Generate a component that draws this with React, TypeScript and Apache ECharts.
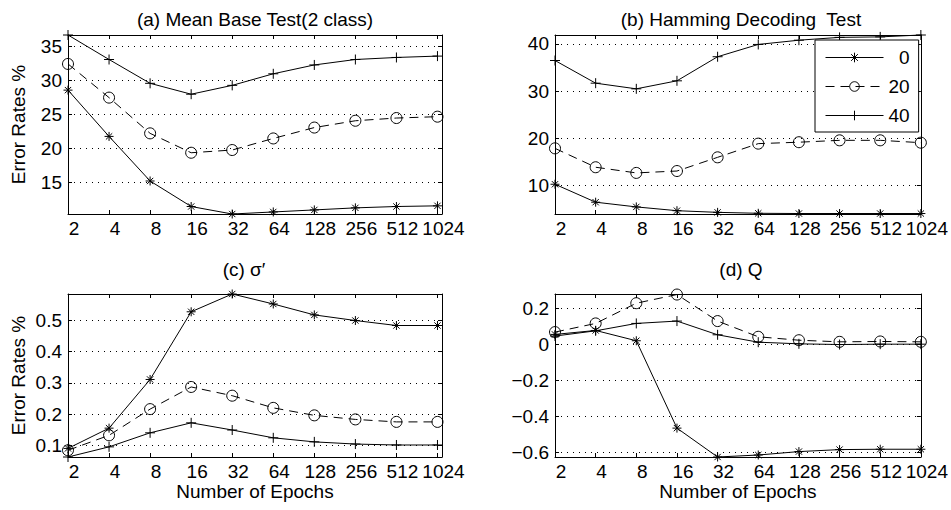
import React, { useEffect, useRef } from 'react';
import * as echarts from 'echarts';

const epochs = [2, 4, 8, 16, 32, 64, 128, 256, 512, 1024];
const seriesNames = ['0', '20', '40'];
const titles = ['(a) Mean Base Test(2 class)', '(b) Hamming Decoding  Test', '(c) σ′', '(d) Q'];

const meanBase0 = [28.6, 21.8, 15.25, 11.5, 10.4, 10.7, 11.0, 11.3, 11.5, 11.6];
const meanBase20 = [32.45, 27.5, 22.25, 19.4, 19.8, 21.5, 23.1, 24.1, 24.5, 24.7];
const meanBase40 = [36.7, 33.1, 29.6, 28.0, 29.3, 31.0, 32.3, 33.1, 33.4, 33.6];

const hamming0 = [10.3, 6.5, 5.5, 4.7, 4.35, 4.15, 4.1, 4.1, 4.1, 4.1];
const hamming20 = [17.9, 13.9, 12.7, 13.1, 16.0, 18.9, 19.2, 19.6, 19.6, 19.1];
const hamming40 = [36.5, 31.7, 30.5, 32.2, 37.3, 39.9, 40.8, 41.4, 41.5, 41.9];

const sigma0 = [0.09, 0.155, 0.311, 0.528, 0.585, 0.553, 0.518, 0.5, 0.484, 0.484];
const sigma20 = [0.084, 0.132, 0.216, 0.287, 0.259, 0.22, 0.196, 0.183, 0.175, 0.175];
const sigma40 = [0.0625, 0.095, 0.14, 0.172, 0.149, 0.124, 0.111, 0.104, 0.101, 0.101];

const q0 = [0.054, 0.076, 0.019, -0.465, -0.625, -0.614, -0.595, -0.584, -0.582, -0.582];
const q20 = [0.067, 0.115, 0.227, 0.275, 0.128, 0.041, 0.022, 0.013, 0.015, 0.013];
const q40 = [0.045, 0.074, 0.115, 0.128, 0.052, 0.011, 0.002, -0.002, 0, 0];

const panelData = [
  [meanBase0, meanBase20, meanBase40],
  [hamming0, hamming20, hamming40],
  [sigma0, sigma20, sigma40],
  [q0, q20, q40],
];
const yLimits = [
  [10.4, 36.7],
  [4.0, 41.9],
  [0.0625, 0.585],
  [-0.625, 0.278],
];
const xMaxLog = [10.11, 10, 10.11, 10];

const FONT = '"Liberation Sans", Arial, Helvetica, sans-serif';
const STAR = 'path://M5,0L5,10M0,5L10,5M1.5,1.5L8.5,8.5M1.5,8.5L8.5,1.5';
const PLUS = 'path://M5,0L5,10M0,5L10,5';

const grids = [
  { left: 68, top: 35, width: 374, height: 179 },
  { left: 555, top: 35, width: 372, height: 179 },
  { left: 68, top: 294, width: 374, height: 163 },
  { left: 555, top: 294, width: 372, height: 163 },
];
const titlePos = [
  { left: 255, top: 10 },
  { left: 741, top: 10 },
  { left: 244, top: 260 },
  { left: 741, top: 260 },
];

const markers = [
  { symbol: STAR, symbolSize: 9, dash: 'solid' as any },
  { symbol: 'circle', symbolSize: 11, dash: [9, 6] as any },
  { symbol: PLUS, symbolSize: 10, dash: 'solid' as any },
];

function fmtY(v: number) {
  const r = Math.round(v * 1000) / 1000;
  return String(r).replace('-', '\u2212');
}

export default function App() {
  const ref = useRef<HTMLDivElement>(null);
  useEffect(() => {
    if (!ref.current) return;
    const chart = echarts.init(ref.current, undefined, { renderer: 'svg' });
    const black = '#000';
    const xAxes: any[] = [];
    const yAxes: any[] = [];
    for (let i = 0; i < 4; i++) {
      xAxes.push({
        type: 'value',
        gridIndex: i,
        min: 1,
        max: xMaxLog[i],
        interval: 1,
        axisLine: { show: true, onZero: false, lineStyle: { color: black, width: 1 } },
        axisTick: { show: true, inside: true, length: 4, lineStyle: { color: black } },
        axisLabel: {
          color: black,
          fontSize: 19,
          fontFamily: FONT,
          margin: 5,
          padding: [0, 0, 0, 12],
          formatter: (v: number) =>
            Math.abs(v - Math.round(v)) < 1e-6 ? String(epochs[Math.round(v) - 1] ?? '') : '',
        },
        splitLine: { show: false },
        name: i >= 2 ? 'Number of Epochs' : '',
        nameLocation: 'middle',
        nameGap: 25,
        nameTextStyle: { color: black, fontSize: 19, fontFamily: FONT },
      });
      yAxes.push({
        type: 'value',
        gridIndex: i,
        min: yLimits[i][0],
        max: yLimits[i][1],
        splitNumber: 5,
        axisLine: { show: true, onZero: false, lineStyle: { color: black, width: 1 } },
        axisTick: { show: true, inside: true, length: 4, lineStyle: { color: black } },
        axisLabel: {
          color: black,
          fontSize: 19,
          fontFamily: FONT,
          margin: 6,
          showMinLabel: false,
          showMaxLabel: false,
          formatter: fmtY,
        },
        splitLine: { show: true, lineStyle: { color: black, width: 1, type: [1, 5] } },
        name: i % 2 === 0 ? 'Error Rates %' : '',
        nameLocation: 'middle',
        nameRotate: 90,
        nameGap: 40,
        nameTextStyle: { color: black, fontSize: 19, fontFamily: FONT },
      });
    }
    for (let i = 0; i < 4; i++) {
      xAxes.push({
        type: 'value',
        gridIndex: i,
        position: 'top',
        min: 1,
        max: xMaxLog[i],
        interval: 1,
        axisLine: { show: true, onZero: false, lineStyle: { color: black, width: 1 } },
        axisTick: { show: true, inside: true, length: 4, lineStyle: { color: black } },
        axisLabel: { show: false },
        splitLine: { show: false },
      });
      yAxes.push({
        type: 'value',
        gridIndex: i,
        position: 'right',
        min: yLimits[i][0],
        max: yLimits[i][1],
        splitNumber: 5,
        axisLine: { show: true, onZero: false, lineStyle: { color: black, width: 1 } },
        axisTick: { show: true, inside: true, length: 4, lineStyle: { color: black } },
        axisLabel: { show: false },
        splitLine: { show: false },
      });
    }
    const series: any[] = [];
    panelData.forEach((sets, i) => {
      sets.forEach((vals, k) => {
        series.push({
          type: 'line',
          name: seriesNames[k],
          xAxisIndex: i,
          yAxisIndex: i,
          data: epochs.map((e, j) => [Math.log2(e), vals[j]]),
          symbol: markers[k].symbol,
          symbolSize: markers[k].symbolSize,
          showSymbol: true,
          clip: false,
          itemStyle: { color: 'rgba(0,0,0,0)', borderColor: black, borderWidth: 1 },
          lineStyle: { color: black, width: 1, type: markers[k].dash },
          emphasis: { disabled: true },
        });
      });
    });
    chart.setOption({
      animation: false,
      backgroundColor: '#fff',
      title: titles.map((t, i) => ({
        text: t,
        left: titlePos[i].left,
        top: titlePos[i].top,
        textAlign: 'center',
        padding: 0,
        textStyle: { color: black, fontSize: 19, fontWeight: 'normal', fontFamily: FONT },
      })),
      grid: grids,
      xAxis: xAxes,
      yAxis: yAxes,
      legend: {
        show: true,
        orient: 'vertical',
        left: 815,
        top: 40,
        padding: [8, 9, 7, 10],
        itemWidth: 58,
        itemHeight: 12,
        itemGap: 10,
        backgroundColor: '#fff',
        borderColor: black,
        borderWidth: 1,
        borderRadius: 0,
        selectedMode: false,
        data: seriesNames,
        formatter: (n: string) => (n === '0' ? '\u20070' : n),
        lineStyle: { width: 1, color: black },
        itemStyle: { color: 'rgba(0,0,0,0)', borderColor: black, borderWidth: 1 },
        textStyle: { color: black, fontSize: 19, fontFamily: FONT, lineHeight: 14 },
        z: 10,
      },
      series,
    });
    return () => chart.dispose();
  }, []);
  return (
    <div
      ref={ref}
      style={{ position: 'absolute', left: 0, top: 0, width: 951, height: 510 }}
    />
  );
}
